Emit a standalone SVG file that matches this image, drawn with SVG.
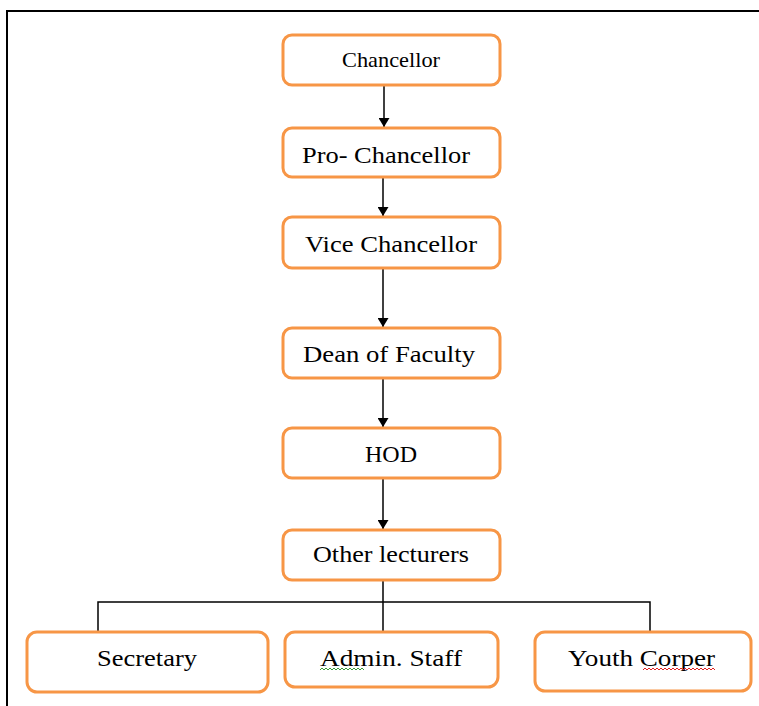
<svg xmlns="http://www.w3.org/2000/svg" width="759" height="706" viewBox="0 0 759 706">
<defs>
<style>
.box{fill:#fff;stroke:#F79646;stroke-width:3}
.t{font-family:"Liberation Serif","Times New Roman",serif;font-size:24px;fill:#000;text-anchor:start}
.c{stroke:#000;stroke-width:1.5;fill:none}
.sq{fill:none;stroke-width:1}
</style>
<marker id="ah" viewBox="0 0 10 10" refX="10" refY="5" markerWidth="9" markerHeight="11" orient="auto" markerUnits="userSpaceOnUse" preserveAspectRatio="none">
<path d="M0,0 L10,5 L0,10 z" fill="#000"/>
</marker>
</defs>
<rect width="759" height="706" fill="#fff"/>
<path d="M7,706 V11 H759" fill="none" stroke="#000" stroke-width="2"/>
<g id="connectors">
<line class="c" x1="384" y1="85" x2="384" y2="127" marker-end="url(#ah)"/>
<line class="c" x1="383" y1="177" x2="383" y2="216" marker-end="url(#ah)"/>
<line class="c" x1="383" y1="268" x2="383" y2="327" marker-end="url(#ah)"/>
<line class="c" x1="383" y1="378" x2="383" y2="427" marker-end="url(#ah)"/>
<line class="c" x1="383" y1="478" x2="383" y2="529" marker-end="url(#ah)"/>
<line class="c" x1="383" y1="580" x2="383" y2="632"/>
<path class="c" d="M98,631 V602 H650 V631"/>
</g>
<g id="chancellor">
<rect class="box" x="283" y="35" width="217" height="50" rx="9"/>
<text class="t" x="342" y="67" textLength="98" lengthAdjust="spacingAndGlyphs" style="font-size:21px">Chancellor</text>
</g>
<g id="pro-chancellor">
<rect class="box" x="283" y="128" width="217" height="49" rx="9"/>
<text class="t" x="302" y="163" textLength="168" lengthAdjust="spacingAndGlyphs">Pro- Chancellor</text>
</g>
<g id="vice-chancellor">
<rect class="box" x="283" y="217" width="217" height="51" rx="9"/>
<text class="t" x="305" y="252" textLength="172" lengthAdjust="spacingAndGlyphs">Vice Chancellor</text>
</g>
<g id="dean">
<rect class="box" x="283" y="328" width="217" height="50" rx="9"/>
<text class="t" x="303" y="362" textLength="172" lengthAdjust="spacingAndGlyphs">Dean of Faculty</text>
</g>
<g id="hod">
<rect class="box" x="283" y="428" width="217" height="50" rx="9"/>
<text class="t" x="365" y="462" textLength="52" lengthAdjust="spacingAndGlyphs">HOD</text>
</g>
<g id="other-lecturers">
<rect class="box" x="283" y="530" width="217" height="50" rx="9"/>
<text class="t" x="313" y="562" textLength="156" lengthAdjust="spacingAndGlyphs">Other lecturers</text>
</g>
<g id="secretary">
<rect class="box" x="27" y="632" width="241" height="60" rx="10"/>
<text class="t" x="97" y="666" textLength="100" lengthAdjust="spacingAndGlyphs">Secretary</text>
</g>
<g id="admin-staff">
<rect class="box" x="285" y="632" width="213" height="55" rx="10"/>
<text class="t" x="320" y="666" textLength="142" lengthAdjust="spacingAndGlyphs">Admin. Staff</text>
<path class="sq" stroke="#3a9a3a" d="M320,670 l2,-2 l2,2 l2,-2 l2,2 l2,-2 l2,2 l2,-2 l2,2 l2,-2 l2,2 l2,-2 l2,2 l2,-2 l2,2 l2,-2 l2,2 l2,-2 l2,2 l2,-2 l2,2 l2,-2 l2,2"/>
</g>
<g id="youth-corper">
<rect class="box" x="535" y="632" width="216" height="59" rx="10"/>
<text class="t" x="568" y="666" textLength="147" lengthAdjust="spacingAndGlyphs">Youth Corper</text>
<path class="sq" stroke="#e02020" d="M643,670 l2,-2 l2,2 l2,-2 l2,2 l2,-2 l2,2 l2,-2 l2,2 l2,-2 l2,2 l2,-2 l2,2 l2,-2 l2,2 l2,-2 l2,2 l2,-2 l2,2 l2,-2 l2,2 l2,-2 l2,2 l2,-2 l2,2 l2,-2 l2,2 l2,-2 l2,2 l2,-2 l2,2 l2,-2 l2,2 l2,-2 l2,2 l2,-2 l2,2"/>
</g>
</svg>
